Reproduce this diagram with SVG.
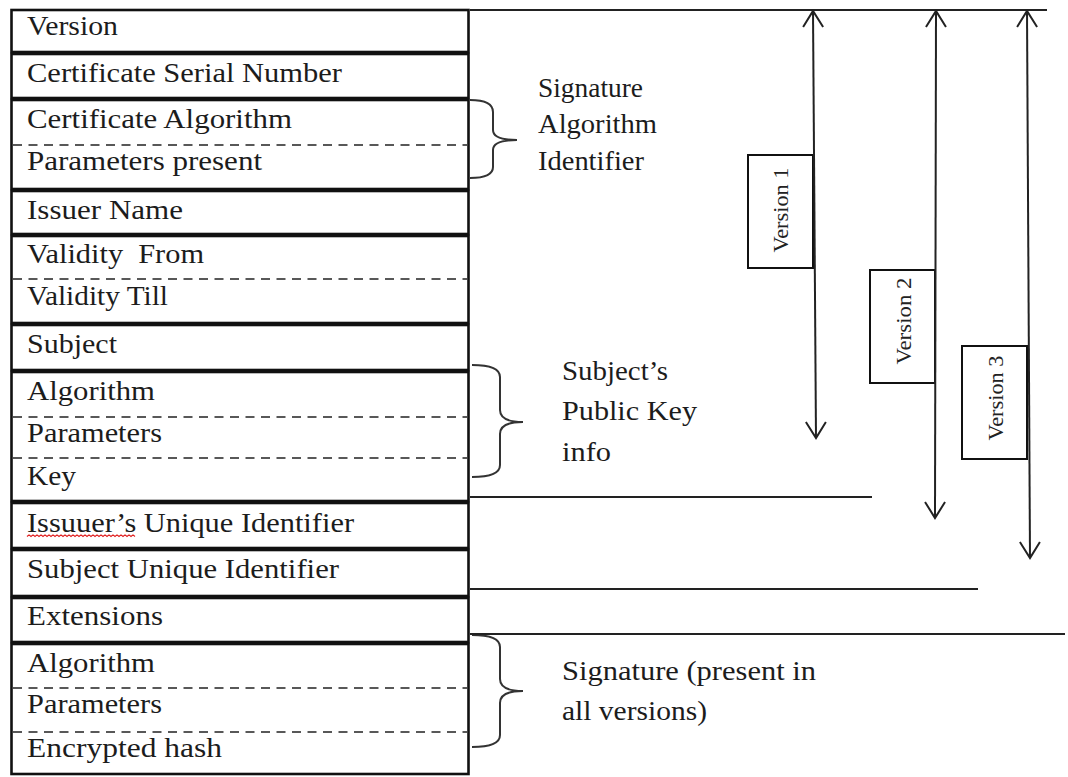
<svg xmlns="http://www.w3.org/2000/svg" width="1068" height="777" viewBox="0 0 1068 777">
<style>
.blk{fill:#fff;stroke:#111;stroke-width:2.6}
.dash{stroke:#222;stroke-width:1.6;stroke-dasharray:9 6.5;fill:none}
.t{font-family:"Liberation Serif","Times New Roman",serif;font-size:27px;fill:#1c1c1c}
.lab{font-family:"Liberation Serif","Times New Roman",serif;font-size:27px;fill:#1c1c1c}
.vt{font-family:"Liberation Serif","Times New Roman",serif;font-size:22px;fill:#222}
.ln{stroke:#222;stroke-width:2;fill:none}
.brace{stroke:#333;stroke-width:2;fill:none}
.vbox{fill:#fff;stroke:#111;stroke-width:2}
.sq{stroke:#e02020;stroke-width:1.2;fill:none}
</style>
<defs>
<marker id="ah" viewBox="-18 -12 20 24" refX="0" refY="0" markerWidth="20" markerHeight="24" markerUnits="userSpaceOnUse" orient="auto-start-reverse">
<path d="M-16,-10 L0,0 L-16,10" fill="none" stroke="#222" stroke-width="2"/>
</marker>
</defs>
<rect width="1068" height="777" fill="#fff"/>

<g id="row-version"><rect class="blk" x="11.5" y="10" width="457" height="42"/><text class="t" x="27" y="35" textLength="91" lengthAdjust="spacingAndGlyphs">Version</text></g>
<g id="row-serial"><rect class="blk" x="11.5" y="54" width="457" height="44"/><text class="t" x="27" y="82" textLength="315" lengthAdjust="spacingAndGlyphs">Certificate Serial Number</text></g>
<g id="row-cert-algorithm"><rect class="blk" x="11.5" y="100" width="457" height="89"/><line class="dash" x1="13" y1="145" x2="467" y2="145"/><text class="t" x="27" y="128" textLength="265" lengthAdjust="spacingAndGlyphs">Certificate Algorithm</text><text class="t" x="27" y="170" textLength="235" lengthAdjust="spacingAndGlyphs">Parameters present</text></g>
<g id="row-issuer"><rect class="blk" x="11.5" y="191" width="457" height="43"/><text class="t" x="27" y="219" textLength="156" lengthAdjust="spacingAndGlyphs">Issuer Name</text></g>
<g id="row-validity"><rect class="blk" x="11.5" y="236" width="457" height="87"/><line class="dash" x1="13" y1="279" x2="467" y2="279"/><text class="t" x="27" y="263" textLength="177" lengthAdjust="spacingAndGlyphs" xml:space="preserve">Validity  From</text><text class="t" x="27" y="305" textLength="141" lengthAdjust="spacingAndGlyphs">Validity Till</text></g>
<g id="row-subject"><rect class="blk" x="11.5" y="325" width="457" height="45"/><text class="t" x="27" y="353" textLength="90" lengthAdjust="spacingAndGlyphs">Subject</text></g>
<g id="row-public-key"><rect class="blk" x="11.5" y="372" width="457" height="129"/><line class="dash" x1="13" y1="417" x2="467" y2="417"/><line class="dash" x1="13" y1="458" x2="467" y2="458"/><text class="t" x="27" y="400" textLength="128" lengthAdjust="spacingAndGlyphs">Algorithm</text><text class="t" x="27" y="442" textLength="135" lengthAdjust="spacingAndGlyphs">Parameters</text><text class="t" x="27" y="485" textLength="49" lengthAdjust="spacingAndGlyphs">Key</text></g>
<g id="row-issuer-uid"><rect class="blk" x="11.5" y="503" width="457" height="45"/><text class="t" x="27" y="532" textLength="327" lengthAdjust="spacingAndGlyphs">Issuuer’s Unique Identifier</text><path class="sq" d="M27,536.5 l2,-1.6 l2,1.6 l2,-1.6 l2,1.6 l2,-1.6 l2,1.6 l2,-1.6 l2,1.6 l2,-1.6 l2,1.6 l2,-1.6 l2,1.6 l2,-1.6 l2,1.6 l2,-1.6 l2,1.6 l2,-1.6 l2,1.6 l2,-1.6 l2,1.6 l2,-1.6 l2,1.6 l2,-1.6 l2,1.6 l2,-1.6 l2,1.6 l2,-1.6 l2,1.6 l2,-1.6 l2,1.6 l2,-1.6 l2,1.6 l2,-1.6 l2,1.6 l2,-1.6 l2,1.6 l2,-1.6 l2,1.6 l2,-1.6 l2,1.6 l2,-1.6 l2,1.6 l2,-1.6 l2,1.6 l2,-1.6 l2,1.6 l2,-1.6 l2,1.6 l2,-1.6 l2,1.6 l2,-1.6 l2,1.6 l2,-1.6 l2,1.6"/></g>
<g id="row-subject-uid"><rect class="blk" x="11.5" y="550" width="457" height="46"/><text class="t" x="27" y="578" textLength="312" lengthAdjust="spacingAndGlyphs">Subject Unique Identifier</text></g>
<g id="row-extensions"><rect class="blk" x="11.5" y="598" width="457" height="44"/><text class="t" x="27" y="625" textLength="136" lengthAdjust="spacingAndGlyphs">Extensions</text></g>
<g id="row-signature"><rect class="blk" x="11.5" y="644" width="457" height="130"/><line class="dash" x1="13" y1="688" x2="467" y2="688"/><line class="dash" x1="13" y1="732" x2="467" y2="732"/><text class="t" x="27" y="672" textLength="128" lengthAdjust="spacingAndGlyphs">Algorithm</text><text class="t" x="27" y="713" textLength="135" lengthAdjust="spacingAndGlyphs">Parameters</text><text class="t" x="27" y="757" textLength="195" lengthAdjust="spacingAndGlyphs">Encrypted hash</text></g>

<g id="brace-sig-alg"><path class="brace" d="M470,100 Q493,100 493,112 L493,130 Q493,140 517,140 M517,140 Q493,140 493,150 L493,167 Q493,178 470,178"/><text class="lab" x="538" y="97" textLength="105" lengthAdjust="spacingAndGlyphs">Signature</text><text class="lab" x="538" y="133" textLength="119" lengthAdjust="spacingAndGlyphs">Algorithm</text><text class="lab" x="538" y="170" textLength="106" lengthAdjust="spacingAndGlyphs">Identifier</text></g>
<g id="brace-public-key"><path class="brace" d="M472,365 Q500,365 500,377 L500,410 Q500,422 523,422 M523,422 Q500,422 500,434 L500,465 Q500,477 472,477"/><text class="lab" x="562" y="380" textLength="106" lengthAdjust="spacingAndGlyphs">Subject’s</text><text class="lab" x="562" y="420" textLength="135" lengthAdjust="spacingAndGlyphs">Public Key</text><text class="lab" x="562" y="461" textLength="49" lengthAdjust="spacingAndGlyphs">info</text></g>
<g id="brace-signature"><path class="brace" d="M472,635 Q500,635 500,647 L500,679 Q500,691 523,691 M523,691 Q500,691 500,703 L500,735 Q500,747 472,747"/><text class="lab" x="562" y="680" textLength="254" lengthAdjust="spacingAndGlyphs">Signature (present in</text><text class="lab" x="562" y="720" textLength="145" lengthAdjust="spacingAndGlyphs">all versions)</text></g>

<g id="version-1"><rect class="vbox" x="748" y="155" width="65" height="113"/><text class="vt" transform="translate(788,210) rotate(-90)" text-anchor="middle" textLength="85" lengthAdjust="spacingAndGlyphs">Version 1</text></g>
<g id="version-2"><rect class="vbox" x="870" y="270" width="65" height="113"/><text class="vt" transform="translate(911,321) rotate(-90)" text-anchor="middle" textLength="87" lengthAdjust="spacingAndGlyphs">Version 2</text></g>
<g id="version-3"><rect class="vbox" x="962" y="346" width="65" height="113"/><text class="vt" transform="translate(1003,398) rotate(-90)" text-anchor="middle" textLength="85" lengthAdjust="spacingAndGlyphs">Version 3</text></g>

<g id="connectors">
<line class="ln" x1="470" y1="10" x2="1047" y2="10"/>
<line class="ln" x1="470" y1="497" x2="872" y2="497"/>
<line class="ln" x1="470" y1="589" x2="978" y2="589"/>
<line class="ln" x1="470" y1="634" x2="1065" y2="634"/>
<line class="ln" x1="813" y1="11" x2="816" y2="438" marker-start="url(#ah)" marker-end="url(#ah)"/>
<line class="ln" x1="936" y1="11" x2="935" y2="518" marker-start="url(#ah)" marker-end="url(#ah)"/>
<line class="ln" x1="1027" y1="11" x2="1030" y2="558" marker-start="url(#ah)" marker-end="url(#ah)"/>
</g>
</svg>
